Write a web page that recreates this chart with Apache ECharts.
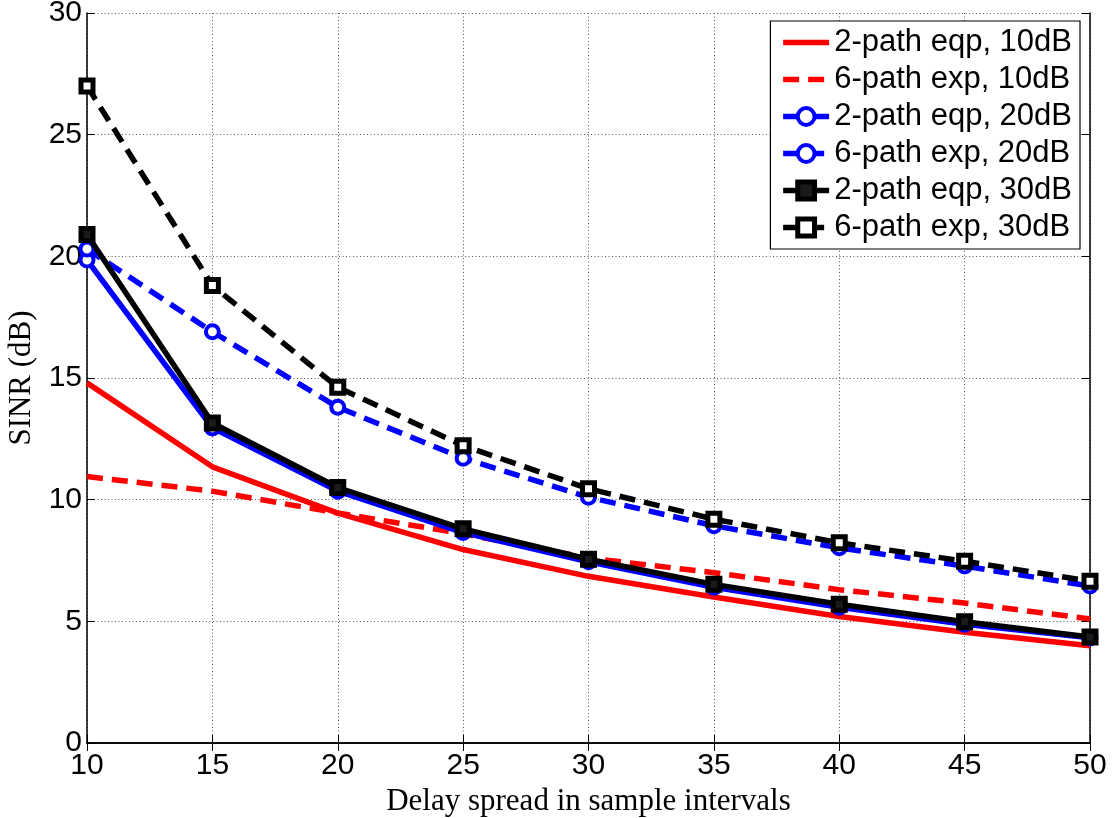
<!DOCTYPE html>
<html>
<head>
<meta charset="utf-8">
<script src="https://cdn.jsdelivr.net/npm/echarts@6/dist/echarts.min.js"></script>
<style>
  html, body { margin: 0; padding: 0; background: #fff; }
  #chart { width: 1113px; height: 818px; }
</style>
</head>
<body>
<div id="chart"></div>
<script>
// Delay spread (sample intervals)
const delaySpread = [10, 15, 20, 25, 30, 35, 40, 45, 50];

// SINR (dB) per channel model and SNR
const eqp2_10dB = [14.8, 11.35, 9.45, 7.95, 6.85, 6.0, 5.2, 4.55, 4.0];
const exp6_10dB = [10.95, 10.35, 9.45, 8.6, 7.6, 7.0, 6.3, 5.75, 5.1];
const eqp2_20dB = [19.85, 12.95, 10.35, 8.65, 7.45, 6.4, 5.58, 4.88, 4.32];
const exp6_20dB = [20.3, 16.9, 13.8, 11.7, 10.1, 8.93, 8.02, 7.27, 6.45];
const eqp2_30dB = [20.9, 13.15, 10.5, 8.8, 7.55, 6.52, 5.7, 4.98, 4.36];
const exp6_30dB = [27.0, 18.8, 14.62, 12.22, 10.45, 9.2, 8.23, 7.47, 6.65];

const seriesNames = [
  '2-path eqp, 10dB', '6-path exp, 10dB',
  '2-path eqp, 20dB', '6-path exp, 20dB',
  '2-path eqp, 30dB', '6-path exp, 30dB'
];

const pairs = arr => delaySpread.map((x, i) => [x, arr[i]]);

const LINE_W = 5.5;
const DASH = [16, 9];
const tickFont = { fontFamily: 'Liberation Sans', fontSize: 30, color: '#000' };

// Visual style of each curve: colour, dashed, marker, marker size, marker fill, marker border
const styles = [
  { color: '#ff0000', dashed: false, symbol: 'none',   size: 0,  fill: 'rgba(0,0,0,0)', bw: 0 },
  { color: '#ff0000', dashed: true,  symbol: 'none',   size: 0,  fill: 'rgba(0,0,0,0)', bw: 0 },
  { color: '#0000ff', dashed: false, symbol: 'circle', size: 13, fill: '#ffffff', bw: 4 },
  { color: '#0000ff', dashed: true,  symbol: 'circle', size: 13, fill: '#ffffff', bw: 4 },
  { color: '#000000', dashed: false, symbol: 'rect',   size: 12, fill: '#1a1a1a', bw: 5 },
  { color: '#000000', dashed: true,  symbol: 'rect',   size: 12, fill: '#ffffff', bw: 5 }
];
const values = [eqp2_10dB, exp6_10dB, eqp2_20dB, exp6_20dB, eqp2_30dB, exp6_30dB];

const series = seriesNames.map((name, i) => {
  const s = styles[i];
  return {
    name: name,
    type: 'line',
    data: pairs(values[i]),
    symbol: s.symbol === 'none' ? 'circle' : s.symbol,
    symbolSize: s.size,
    showSymbol: s.symbol !== 'none',
    lineStyle: { color: s.color, width: LINE_W, type: s.dashed ? DASH : 'solid', cap: 'butt' },
    itemStyle: { color: s.fill, borderColor: s.color, borderWidth: s.bw },
    emphasis: { disabled: true },
    animation: false,
    z: 3 + i
  };
});

const legendData = seriesNames.map((name, i) => {
  const s = styles[i];
  return {
    name: name,
    itemStyle: s.symbol === 'none'
      ? { color: 'rgba(0,0,0,0)', borderColor: 'rgba(0,0,0,0)', borderWidth: 0 }
      : { color: s.fill, borderColor: s.color, borderWidth: s.bw },
    lineStyle: { color: s.color, width: LINE_W, type: s.dashed ? DASH : 'solid' }
  };
});

const chart = echarts.init(document.getElementById('chart'), null, { renderer: 'canvas' });

const boxAxis = {
  axisLine: { show: true, lineStyle: { color: '#000', width: 1.5 } },
  axisTick: { show: true, inside: true, length: 8, lineStyle: { color: '#000', width: 1 } },
  axisLabel: { show: false },
  splitLine: { show: false }
};
const gridLines = { show: true, lineStyle: { color: '#555', width: 1, type: [1, 2.5] } };

chart.setOption({
  backgroundColor: '#fff',
  animation: false,
  grid: { left: 87, right: 23, top: 13, bottom: 75, containLabel: false, outerBoundsMode: 'none' },
  legend: {
    orient: 'vertical',
    right: 33, top: 21,
    backgroundColor: '#fff',
    borderColor: '#000',
    borderWidth: 1.2,
    borderRadius: 0,
    padding: [6, 8, 6, 10],
    itemWidth: 46,
    itemHeight: 21,
    itemGap: 6,
    textStyle: { fontFamily: 'Liberation Sans', fontSize: 31, color: '#000' },
    data: legendData
  },
  xAxis: [Object.assign({}, boxAxis, {
    type: 'value', min: 10, max: 50, interval: 5,
    position: 'bottom',
    name: 'Delay spread in sample intervals',
    nameLocation: 'middle', nameGap: 40,
    nameTextStyle: { fontFamily: 'Liberation Serif', fontSize: 31, color: '#000' },
    axisLabel: Object.assign({ show: true, margin: 8 }, tickFont),
    splitLine: gridLines
  }), Object.assign({}, boxAxis, {
    type: 'value', min: 10, max: 50, interval: 5, position: 'top'
  })],
  yAxis: [Object.assign({}, boxAxis, {
    type: 'value', min: 0, max: 30, interval: 5,
    position: 'left',
    name: 'SINR (dB)',
    nameLocation: 'middle', nameGap: 48,
    nameTextStyle: { fontFamily: 'Liberation Serif', fontSize: 31, color: '#000' },
    axisLabel: Object.assign({ show: true, margin: 5 }, tickFont),
    splitLine: gridLines
  }), Object.assign({}, boxAxis, {
    type: 'value', min: 0, max: 30, interval: 5, position: 'right'
  })],
  series: series
});
</script>
</body>
</html>
